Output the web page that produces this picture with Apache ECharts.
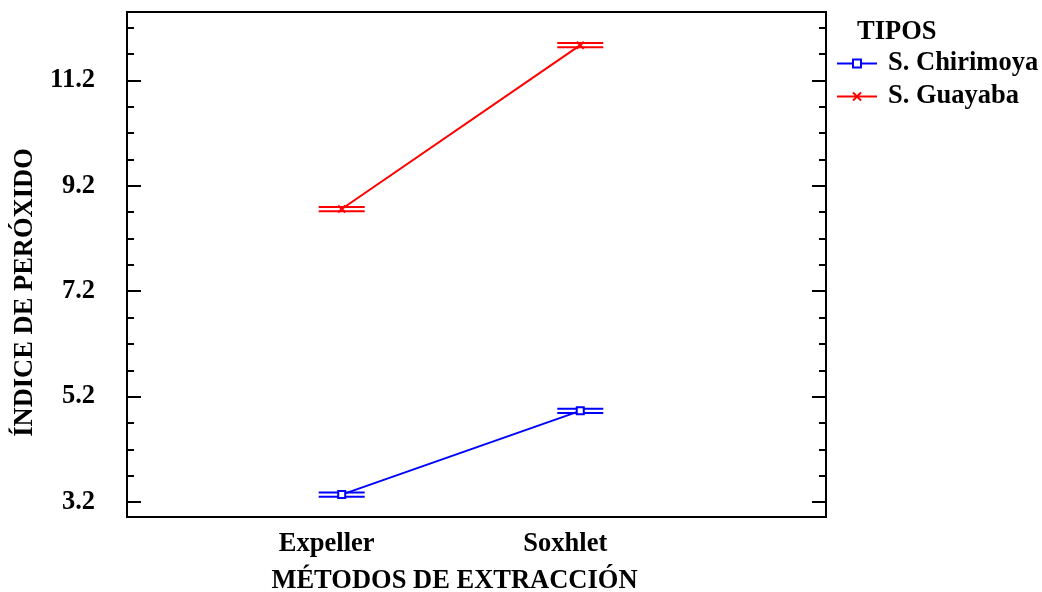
<!DOCTYPE html>
<html>
<head>
<meta charset="utf-8">
<script src="https://cdn.jsdelivr.net/npm/echarts@6/dist/echarts.min.js"></script>
<style>html,body{margin:0;padding:0;background:#fff;}#c{width:1042px;height:592px;}</style>
</head>
<body>
<div id="c"></div>
<script>
const categories = ['Expeller', 'Soxhlet'];
const catPos = [1, 2];
const seriesNames = ['S. Chirimoya', 'S. Guayaba'];
const chirimoya = [3.34, 4.93];
const guayaba = [8.76, 11.87];
const chirimoyaLow = [3.30, 4.89];
const chirimoyaHigh = [3.38, 4.97];
const guayabaLow = [8.72, 11.83];
const guayabaHigh = [8.80, 11.91];
const yMajorTicks = [3.2, 5.2, 7.2, 9.2, 11.2];
const yMinorTicks = [3.7, 4.2, 4.7, 5.7, 6.2, 6.7, 7.7, 8.2, 8.7, 9.7, 10.2, 10.7, 11.7, 12.2];

const FONT = 'Liberation Serif';
const FS = 26.5;
const YMIN = 2.915, YMAX = 12.5;

function pts(vals) { return catPos.map((x, i) => [x, vals[i]]); }
function intervals(lo, hi) { return catPos.map((x, i) => [x, lo[i], hi[i]]); }

function intervalRender(color) {
  return function (params, api) {
    const x = api.value(0);
    const p1 = api.coord([x, api.value(1)]);
    const p2 = api.coord([x, api.value(2)]);
    const hw = 23;
    return {
      type: 'group',
      children: [
        { type: 'line', shape: { x1: p1[0] - hw, y1: p1[1], x2: p1[0] + hw, y2: p1[1] }, style: { stroke: color, lineWidth: 2 } },
        { type: 'line', shape: { x1: p2[0] - hw, y1: p2[1], x2: p2[0] + hw, y2: p2[1] }, style: { stroke: color, lineWidth: 2 } }
      ]
    };
  };
}

function yAx(pos, ticks, len, labels) {
  return {
    type: 'value', position: pos, min: YMIN, max: YMAX, offset: 0,
    axisLine: { show: false },
    splitLine: { show: false },
    axisTick: { show: true, inside: true, length: len, customValues: ticks, lineStyle: { color: '#000', width: 2 } },
    axisLabel: labels ? { show: true, customValues: yMajorTicks, margin: 32, color: '#000', fontFamily: FONT, fontWeight: 'bold', fontSize: FS, formatter: v => v.toFixed(1) } : { show: false },
    name: labels ? 'ÍNDICE DE PERÓXIDO' : '',
    nameLocation: 'middle', nameGap: 88, nameRotate: 90,
    nameTextStyle: { color: '#000', fontFamily: FONT, fontWeight: 'bold', fontSize: FS, padding: [0, 56, 0, 0] }
  };
}

const chart = echarts.init(document.getElementById('c'), null, { renderer: 'canvas' });
chart.setOption({
  animation: false,
  backgroundColor: '#fff',
  title: { text: 'TIPOS', left: 852, top: 14, textStyle: { color: '#000', fontFamily: FONT, fontWeight: 'bold', fontSize: FS } },
  legend: {
    data: seriesNames, orient: 'vertical', left: 836, top: 50, padding: 0, itemWidth: 40, itemHeight: 10, itemGap: 6,
    textStyle: { color: '#000', fontFamily: FONT, fontWeight: 'bold', fontSize: FS, padding: [0, 0, 0, 6] }
  },
  grid: { left: 127, right: 216, top: 12, bottom: 75, outerBoundsMode: 'none', containLabel: false, show: true, borderColor: '#000', borderWidth: 2, backgroundColor: 'transparent' },
  xAxis: {
    type: 'value', min: 0.1, max: 3.03,
    axisLine: { show: false }, splitLine: { show: false }, axisTick: { show: false },
    axisLabel: { customValues: catPos, formatter: v => categories[Math.round(v) - 1] || '', margin: 14, padding: [0, 30, 0, 0], color: '#000', fontFamily: FONT, fontWeight: 'bold', fontSize: FS },
    name: 'MÉTODOS DE EXTRACCIÓN', nameLocation: 'middle', nameGap: 51,
    nameTextStyle: { color: '#000', fontFamily: FONT, fontWeight: 'bold', fontSize: FS, padding: [0, 44, 0, 0] }
  },
  yAxis: [
    yAx('left', yMajorTicks, 14, true),
    yAx('left', yMinorTicks, 7, false),
    yAx('right', yMajorTicks, 14, false),
    yAx('right', yMinorTicks, 7, false)
  ],
  series: [
    {
      name: seriesNames[0], type: 'line', data: pts(chirimoya),
      symbol: 'emptyRect', symbolSize: 7,
      lineStyle: { color: '#0000ff', width: 2 },
      itemStyle: { color: '#0000ff', borderColor: '#0000ff', borderWidth: 1.5 }
    },
    {
      name: seriesNames[1], type: 'line', data: pts(guayaba),
      symbol: 'path://M0,0L10,10M10,0L0,10', symbolSize: 7,
      lineStyle: { color: '#ff0000', width: 2 },
      itemStyle: { color: '#ff0000', borderColor: '#ff0000', borderWidth: 2 }
    },
    { type: 'custom', renderItem: intervalRender('#0000ff'), data: intervals(chirimoyaLow, chirimoyaHigh), silent: true, z: 3 },
    { type: 'custom', renderItem: intervalRender('#ff0000'), data: intervals(guayabaLow, guayabaHigh), silent: true, z: 3 }
  ]
});
</script>
</body>
</html>
